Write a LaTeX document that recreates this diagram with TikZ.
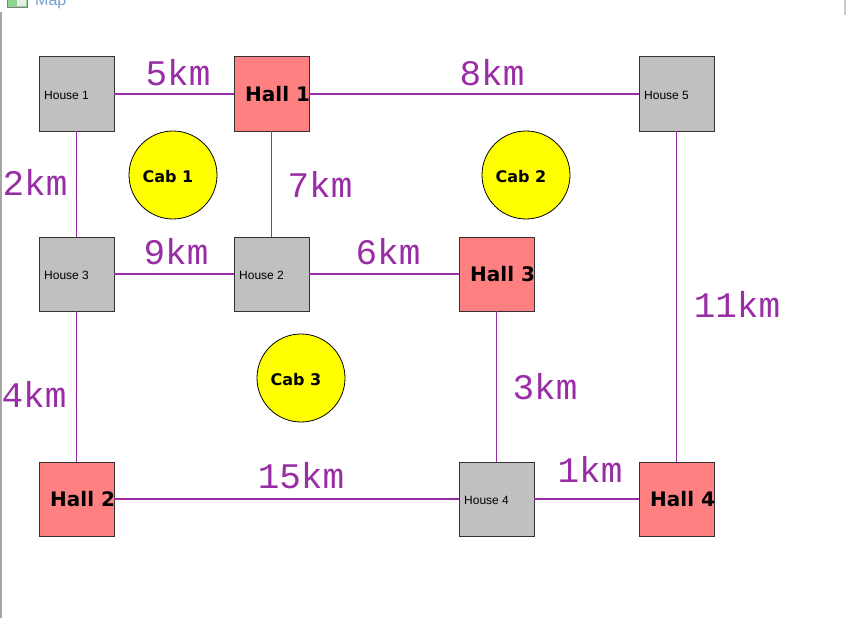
\documentclass[tikz,border=0pt]{standalone}
\usepackage{fontspec}
\setmainfont{Liberation Sans}
\newfontfamily\monofont{Liberation Mono}
\newfontfamily\blockfont{DejaVu Sans}
\definecolor{edgec}{RGB}{153,45,165}
\definecolor{hallc}{RGB}{255,128,128}
\definecolor{housec}{RGB}{192,192,192}
\definecolor{cabc}{RGB}{255,255,0}
\definecolor{titlec}{RGB}{120,160,205}
\begin{document}
\begin{tikzpicture}[x=1pt,y=-1pt,
  box/.style={draw=black!80, line width=1pt, minimum width=75pt, minimum height=74pt, inner sep=0pt, outer sep=0pt},
  housebox/.style={box, fill=housec},
  hallbox/.style={box, fill=hallc},
  cabnode/.style={circle, draw=black, line width=0.8pt, fill=cabc, minimum size=88pt, inner sep=0pt},
  housetext/.style={font=\fontsize{12}{12}\selectfont, anchor=west, inner sep=0pt},
  halltext/.style={font=\blockfont\bfseries\fontsize{20}{20}\selectfont, anchor=west, inner sep=0pt},
  cabtext/.style={font=\blockfont\bfseries\fontsize{16}{16}\selectfont, anchor=center, inner sep=0pt},
  road/.style={draw=edgec, line width=1.4pt},
  dist/.style={font=\monofont\fontsize{36}{36}\selectfont, text=edgec, anchor=base, inner sep=0pt}]
\useasboundingbox (0,0) rectangle (847,618);
\clip (0,0) rectangle (847,618);
\fill[white] (0,0) rectangle (847,618);
% window frame remnants
\draw[gray!70, line width=1.2pt] (1,12) -- (1,618);
\draw[gray!40, line width=2pt] (845,0) -- (845,15);
\filldraw[fill=green!45!gray!60, draw=gray] (7,-4) rectangle (27,7);
\fill[white!85!gray] (17,-3) rectangle (26,6);
\node[font=\fontsize{16}{16}\selectfont, text=titlec, anchor=base west, inner sep=0pt] (title) at (35,6) {Map};
% boxes
\node[housebox] (house1) at (76.5,94) {};
\node[hallbox]  (hall1)  at (271.5,94) {};
\node[housebox] (house5) at (676.5,94) {};
\node[housebox] (house3) at (76.5,274) {};
\node[housebox] (house2) at (271.5,274) {};
\node[hallbox]  (hall3)  at (496.5,274) {};
\node[hallbox]  (hall2)  at (76.5,499) {};
\node[housebox] (house4) at (496.5,499) {};
\node[hallbox]  (hall4)  at (676.5,499) {};
% cabs
\node[cabnode] (cab1) at (173,175) {};
\node[cabnode] (cab2) at (526,175) {};
\node[cabnode] (cab3) at (301,378) {};
% roads
\draw[road] (house1) -- (hall1);
\draw[road] (hall1) -- (house5);
\draw[road] (house1) -- (house3);
\draw[road] (hall1) -- (house2);
\draw[road] (house3) -- (house2);
\draw[road] (house2) -- (hall3);
\draw[road] (house3) -- (hall2);
\draw[road] (hall3) -- (house4);
\draw[road] (hall2) -- (house4);
\draw[road] (house4) -- (hall4);
\draw[road] (house5) -- (hall4);
% distance labels
\node[dist] (d5)  at (178,85)  {5km};
\node[dist] (d8)  at (492,85)  {8km};
\node[dist] (d2)  at (35,195)  {2km};
\node[dist] (d7)  at (320,197) {7km};
\node[dist] (d9)  at (176,264) {9km};
\node[dist] (d6)  at (388,264) {6km};
\node[dist] (d4)  at (34,407)  {4km};
\node[dist] (d3)  at (545,399) {3km};
\node[dist] (d15) at (301,488) {15km};
\node[dist] (d1)  at (590,482) {1km};
\node[dist] (d11) at (737,317) {11km};
% box texts
\node[housetext] (t1) at ([xshift=5pt,yshift=-1pt]house1.west) {House 1};
\node[housetext] (t5) at ([xshift=5pt,yshift=-1pt]house5.west) {House 5};
\node[housetext] (t3) at ([xshift=5pt,yshift=-1pt]house3.west) {House 3};
\node[housetext] (t2) at ([xshift=5pt,yshift=-1pt]house2.west) {House 2};
\node[housetext] (t4) at ([xshift=5pt,yshift=-1pt]house4.west) {House 4};
\node[halltext] (th1) at ([xshift=11pt]hall1.west) {Hall 1};
\node[halltext] (th2) at ([xshift=11pt]hall2.west) {Hall 2};
\node[halltext] (th3) at ([xshift=11pt]hall3.west) {Hall 3};
\node[halltext] (th4) at ([xshift=11pt]hall4.west) {Hall 4};
\node[cabtext] (tc1) at ([xshift=-5pt,yshift=-2pt]cab1.center) {Cab 1};
\node[cabtext] (tc2) at ([xshift=-5pt,yshift=-2pt]cab2.center) {Cab 2};
\node[cabtext] (tc3) at ([xshift=-5pt,yshift=-2pt]cab3.center) {Cab 3};
\end{tikzpicture}
\end{document}
